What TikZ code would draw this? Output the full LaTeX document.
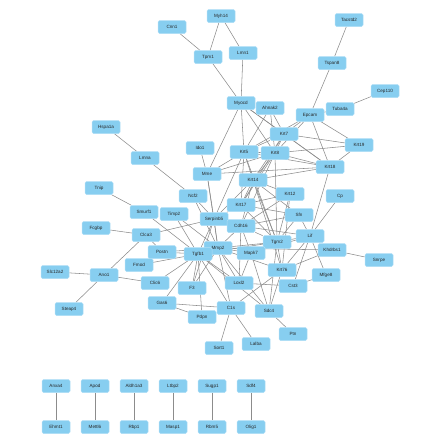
\documentclass[tikz,border=0pt]{standalone}
\usepackage{fontspec}
\setmainfont{Liberation Sans}
\usetikzlibrary{backgrounds}
\definecolor{nodeblue}{RGB}{135,206,240}
\definecolor{nodeedge}{RGB}{175,222,246}
\definecolor{edgegray}{RGB}{140,140,140}
\begin{document}
\begin{tikzpicture}[x=1pt,y=-1pt,
  gene/.style={rectangle,rounded corners=1.5pt,minimum width=28pt,minimum height=13pt,inner sep=0pt,
    fill=nodeblue,draw=nodeedge,line width=0.5pt,font=\fontsize{4.6}{5}\selectfont,text=black!85},
  edge/.style={draw=edgegray,line width=0.55pt}]
\useasboundingbox (0,0) rectangle (439,447);
\foreach \n/\x/\y in {Myh14/221/16, Cnn1/172/27, Tpm1/208/57, Lmn1/243/53, Myocd/241/103,
  Tacstd2/349/20, Tspan8/332/63, Cep110/385/91, Tuba4a/340/109, Epcam/310/115, Ahnak2/270/108,
  Krt7/284/134, Krt19/359/145, Krt8/275/153, Krt18/330/167, Hspa1a/106/127, Lmna/145/158,
  Ido1/200/148, Krt5/244/152, Mme/207/174, Krt14/253/180, Ncf2/193/196, Krt17/241/205,
  Krt12/290/194, Cp/340/196, Tnip/99/188, Smurf1/144/212, Timp2/174/214, Serpinb5/214/219,
  Sfn/299/215, Cdh16/241/226, Fcgbp/96/228, Clca3/146/235, Lif/310/236, Tgm2/277/242,
  Mmp2/218/248, Khdrbs1/332/250, Postn/162/252, Tgfb1/198/254, Mapk7/251/253, Snrpe/379/260,
  Fmod/139/265, Krt76/282/270, Slc12a2/55/272, Mfge8/326/275, Ano1/104/275, Clic6/155/283,
  Loxl2/239/283, Cst3/293/286, F3/192/288, Gas6/162/303, C1s/231/308, Steap4/69/309,
  Sdc4/269/311, Pdpn/202/317, Ptn/293/334, Lalba/256/344, Sort1/219/348,
  Anxa4/56/386, Apod/95/386, Aldh1a3/134/386, Ltbp2/173/386, Sugp1/212/386, Sdf4/251/386,
  Ehmt1/56/427, Mettl6/95/427, Rbp1/134/427, Masp1/173/427, Rbm5/212/427, Olig1/251/427}
  \node[gene] (\n) at (\x,\y) {\n};
\begin{pgfonlayer}{background}
\foreach \a/\b in {Cnn1/Tpm1, Myh14/Tpm1, Myh14/Lmn1, Tpm1/Myocd, Lmn1/Myocd,
  Myocd/Krt5, Myocd/Krt8, Myocd/Krt7, Myocd/Krt18, Myocd/Mme,
  Ahnak2/Krt5, Ahnak2/Krt7, Ahnak2/Krt8,
  Tacstd2/Tspan8, Tspan8/Epcam, Cep110/Tuba4a, Tuba4a/Epcam,
  Epcam/Krt7, Epcam/Krt8, Epcam/Krt19, Epcam/Krt18, Epcam/Krt5,
  Krt7/Krt19, Krt7/Krt18, Krt7/Krt8, Krt7/Krt5, Krt7/Krt14, Krt7/Krt17,
  Krt8/Krt19, Krt8/Krt18, Krt8/Krt5, Krt8/Krt14, Krt8/Krt17, Krt8/Mme, Krt8/Tgm2, Krt8/Cdh16,
  Krt19/Krt18, Krt18/Krt14, Krt18/Krt5, Krt18/Lif, Krt18/Mme,
  Krt5/Mme, Krt5/Krt14, Krt5/Krt17, Krt5/Serpinb5, Krt5/Tgm2,
  Hspa1a/Lmna, Lmna/Ncf2, Ido1/Mme, Mme/Serpinb5, Mme/Mmp2,
  Krt14/Krt17, Krt14/Serpinb5, Krt14/Krt12, Krt14/Sfn, Krt14/Tgm2, Krt14/Krt76, Krt14/Cdh16,
  Krt17/Serpinb5, Krt17/Sfn, Krt17/Tgm2, Krt17/Krt12,
  Krt12/Tgm2, Krt12/Krt76, Krt12/Cdh16,
  Sfn/Tgm2, Sfn/Lif, Sfn/Cdh16,
  Cdh16/Tgm2, Cdh16/Mapk7, Cdh16/Mmp2, Cdh16/Loxl2, Cdh16/Lif,
  Lif/Cp, Lif/Tgm2, Lif/Krt76, Lif/Cst3, Lif/Mfge8, Lif/Mapk7,
  Khdrbs1/Snrpe, Khdrbs1/Mmp2, Khdrbs1/Krt76,
  Tgm2/Mmp2, Tgm2/Mapk7, Tgm2/Krt76, Tgm2/Sdc4, Tgm2/Tgfb1,
  Mapk7/Sdc4, Mapk7/Loxl2, Mapk7/Mmp2,
  Krt76/C1s, Krt76/Sdc4, Krt76/Mmp2,
  Cst3/Loxl2, Cst3/Mfge8,
  Ncf2/Serpinb5, Ncf2/Mmp2,
  Tnip/Smurf1, Smurf1/Tgfb1,
  Timp2/Tgfb1, Timp2/Mmp2,
  Serpinb5/Tgfb1, Serpinb5/Mmp2, Serpinb5/Clca3, Serpinb5/F3,
  Fcgbp/Clca3, Clca3/Ano1, Clca3/Postn,
  Postn/Tgfb1, Postn/Mmp2,
  Fmod/Tgfb1, Slc12a2/Ano1, Steap4/Ano1, Ano1/Clic6, Clic6/Tgfb1,
  F3/Tgfb1, F3/Mmp2, Gas6/Tgfb1, Gas6/C1s, Gas6/Pdpn, Pdpn/Tgfb1,
  Tgfb1/Mmp2, Tgfb1/C1s, Tgfb1/Loxl2, Tgfb1/Sdc4,
  Mmp2/C1s, Mmp2/Loxl2, Mmp2/Sdc4,
  C1s/Sort1, C1s/Lalba, Sdc4/Ptn,
  Anxa4/Ehmt1, Apod/Mettl6, Aldh1a3/Rbp1, Ltbp2/Masp1, Sugp1/Rbm5, Sdf4/Olig1}
  \draw[edge] (\a) -- (\b);
\end{pgfonlayer}
\end{tikzpicture}
\end{document}
